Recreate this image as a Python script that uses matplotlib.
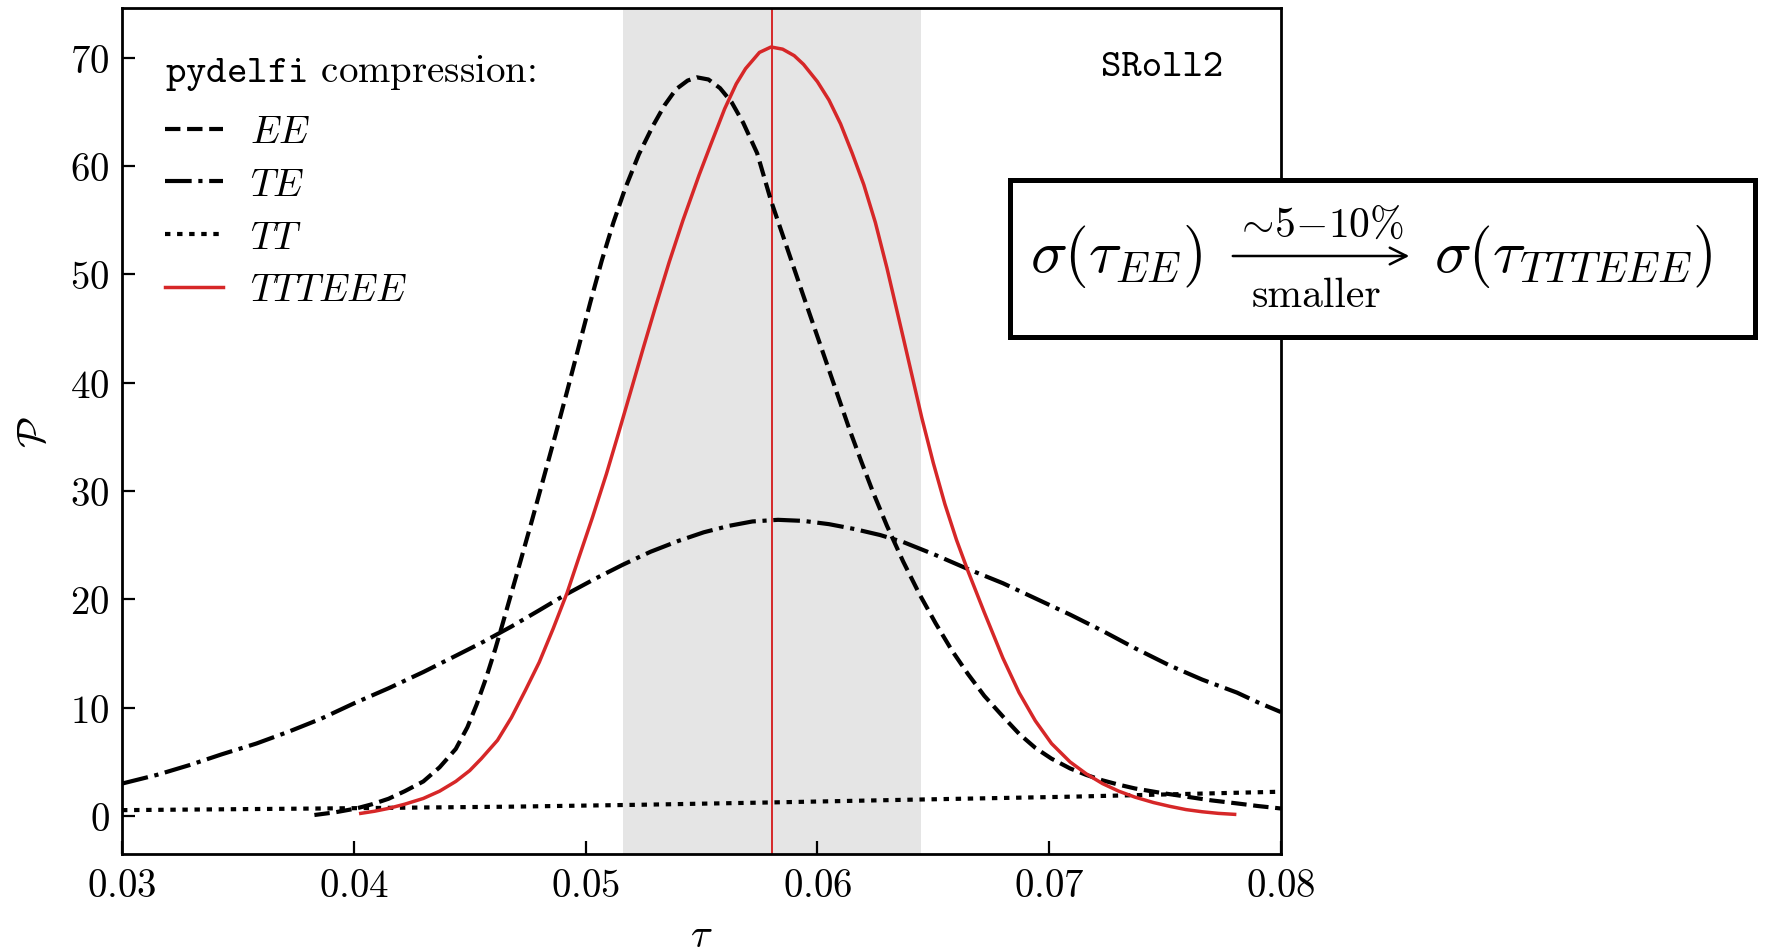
import numpy as np
import matplotlib
matplotlib.use('Agg')
import matplotlib.pyplot as plt
from matplotlib.patches import Rectangle, FancyArrowPatch

plt.rcParams['font.family'] = 'serif'
plt.rcParams['font.serif'] = ['cmr10']
plt.rcParams['font.monospace'] = ['cmtt10']
plt.rcParams['mathtext.fontset'] = 'cm'
plt.rcParams['axes.formatter.use_mathtext'] = True

# posterior curves (tau, P)
tau_ee = [0.0383, 0.0392, 0.0401, 0.0408, 0.0415, 0.0422, 0.0430, 0.0437, 0.0444, 0.0449,
          0.0453, 0.0457, 0.0461, 0.0464, 0.0468, 0.0472, 0.0477, 0.0482, 0.0487, 0.0492,
          0.0497, 0.0502, 0.0507, 0.0512, 0.0517, 0.0523, 0.0529, 0.0534, 0.0539, 0.0544,
          0.0548, 0.0553, 0.0558, 0.0563, 0.0568, 0.0574, 0.0580, 0.0587, 0.0594, 0.0599,
          0.0604, 0.0609, 0.0614, 0.0619, 0.0624, 0.0630, 0.0637, 0.0644, 0.0651, 0.0658,
          0.0665, 0.0672, 0.0680, 0.0687, 0.0694, 0.0701, 0.0709, 0.0716, 0.0723, 0.0730,
          0.0737, 0.0748, 0.0759, 0.0770, 0.0781, 0.0790, 0.0800]
p_ee = [0.1, 0.35, 0.7, 1.1, 1.6, 2.3, 3.2, 4.5, 6.2, 8.2,
        10.3, 12.7, 15.4, 17.6, 20.6, 23.6, 27.4, 31.3, 35.2, 39.2,
        43.3, 47.4, 51.3, 54.8, 57.9, 61.1, 63.7, 65.6, 67.1, 67.9,
        68.2, 68.0, 67.2, 65.9, 64.0, 61.2, 56.8, 52.4, 48.0, 44.9,
        41.8, 38.7, 35.6, 32.7, 29.9, 26.8, 23.5, 20.5, 17.8, 15.3,
        13.1, 11.1, 9.2, 7.6, 6.3, 5.3, 4.4, 3.8, 3.3, 2.9,
        2.55, 2.15, 1.8, 1.45, 1.17, 0.93, 0.7]

tau_te = [0.0300, 0.0315, 0.0329, 0.0343, 0.0358, 0.0372, 0.0386, 0.0400, 0.0415, 0.0430,
          0.0444, 0.0456, 0.0468, 0.0480, 0.0491, 0.0504, 0.0516, 0.0528, 0.0540, 0.0551,
          0.0562, 0.0572, 0.0583, 0.0594, 0.0605, 0.0616, 0.0627, 0.0637, 0.0651, 0.0665,
          0.0680, 0.0694, 0.0709, 0.0723, 0.0737, 0.0752, 0.0766, 0.0781, 0.0790, 0.0800]
p_te = [3.0, 3.8, 4.7, 5.7, 6.7, 7.8, 9.0, 10.4, 11.8, 13.3,
        14.8, 16.1, 17.5, 19.0, 20.4, 21.9, 23.2, 24.4, 25.4, 26.2,
        26.8, 27.2, 27.35, 27.25, 26.95, 26.5, 25.95, 25.3, 24.1, 22.8,
        21.5, 20.1, 18.6, 17.1, 15.5, 13.9, 12.6, 11.4, 10.5, 9.6]

tau_tt = [0.0300, 0.0385, 0.0468, 0.0525, 0.0580, 0.0637, 0.0709, 0.0800]
p_tt = [0.55, 0.7, 0.87, 1.05, 1.26, 1.5, 1.79, 2.25]

tau_all = [0.0403, 0.0409, 0.0415, 0.0422, 0.0430, 0.0437, 0.0444, 0.0450, 0.0455, 0.0462,
           0.0468, 0.0474, 0.0480, 0.0486, 0.0492, 0.0497, 0.0503, 0.0509, 0.0514, 0.0520,
           0.0525, 0.0530, 0.0536, 0.0542, 0.0549, 0.0554, 0.0560, 0.0565, 0.0569, 0.0575,
           0.0580, 0.0585, 0.0590, 0.0594, 0.0600, 0.0605, 0.0610, 0.0615, 0.0620, 0.0625,
           0.0630, 0.0637, 0.0645, 0.0650, 0.0655, 0.0660, 0.0665, 0.0672, 0.0680, 0.0687,
           0.0694, 0.0701, 0.0709, 0.0716, 0.0723, 0.0730, 0.0737, 0.0745, 0.0752, 0.0759,
           0.0766, 0.0773, 0.0780]
p_all = [0.25, 0.45, 0.71, 1.1, 1.63, 2.3, 3.2, 4.2, 5.3, 7.0,
         9.1, 11.6, 14.2, 17.3, 20.6, 23.8, 27.6, 31.6, 35.2, 39.6,
         43.3, 46.9, 51.1, 55.0, 59.2, 62.0, 65.3, 67.6, 69.0, 70.5,
         71.0, 70.8, 70.2, 69.4, 67.8, 66.1, 63.9, 61.2, 58.3, 54.8,
         50.6, 44.2, 36.8, 32.6, 28.8, 25.5, 22.6, 18.8, 14.6, 11.4,
         8.8, 6.7, 5.0, 3.9, 3.0, 2.3, 1.75, 1.25, 0.9, 0.6,
         0.4, 0.25, 0.16]

tau_mean = 0.05805
tau_sig = 0.00643

W, H = 1769, 953
fig = plt.figure(figsize=(W / 100, H / 100), dpi=100)
ax = fig.add_axes([122 / W, 1 - 855 / H, (1281 - 122) / W, (855 - 9) / H])

red = '#d62728'
ax.axvspan(tau_mean - tau_sig, tau_mean + tau_sig, color='#e5e5e5', lw=0, zorder=0)
ax.axvline(tau_mean, color=red, lw=1.4, zorder=1)

ax.plot(tau_ee, p_ee, color='k', ls='--', lw=3.0, label=r'$EE$')
ax.plot(tau_te, p_te, color='k', ls='-.', lw=3.0, label=r'$TE$')
ax.plot(tau_tt, p_tt, color='k', ls=(0, (1.3, 1.6)), lw=3.0, label=r'$TT$')
ax.plot(tau_all, p_all, color=red, ls='-', lw=2.5, label=r'$TTTEEE$')

ax.set_xlim(0.03, 0.08)
ax.set_ylim(-3.5, 74.6)

for s in ax.spines.values():
    s.set_linewidth(2.0)
ax.tick_params(direction='in', length=9.5, width=1.6, labelsize=28)
ax.tick_params(axis='x', pad=10)
ax.tick_params(axis='y', pad=9)

ax.set_xlabel(r'$\tau$', fontsize=29, va='baseline')
ax.set_ylabel(r'$\mathcal{P}$', fontsize=29)
ax.xaxis.set_label_coords(0.5, -(947 - 855) / 846)
ax.yaxis.set_label_coords(-0.06, 0.5)

# legend heading and entries
ax.text(0.037, 0.9476, r'$\mathtt{pydelfi}$ compression:', fontsize=28,
        ha='left', va='top', transform=ax.transAxes)
leg = ax.legend(loc='upper left', bbox_to_anchor=(0.037, 0.874), frameon=False,
                fontsize=28, handlelength=1.5, handletextpad=0.7, labelspacing=0.43,
                borderpad=0, borderaxespad=0)

ax.text(0.95, 0.93, 'SRoll2', family='monospace', fontsize=28,
        ha='right', va='center', transform=ax.transAxes)

# annotation box on the right
box = Rectangle((1009.5 / W, 1 - 337.5 / H), (1755 - 1009.5) / W, (337.5 - 180.5) / H,
                transform=fig.transFigure, fc='white', ec='black', lw=3.6)
fig.add_artist(box)
yb = 1 - 272 / H
fig.text(1030 / W, yb, r'$\sigma(\tau_{EE})$', fontsize=44, ha='left', va='baseline')
fig.text(1434 / W, yb, r'$\sigma(\tau_{TTTEEE})$', fontsize=44, ha='left', va='baseline')
arr = FancyArrowPatch((1230 / W, 1 - 257 / H), (1412 / W, 1 - 257 / H), transform=fig.transFigure,
                      arrowstyle='->', mutation_scale=30, lw=1.8, color='k')
fig.add_artist(arr)
fig.text(1319 / W, 1 - 237 / H, r'$\sim\!5{-}10\%$', fontsize=30, ha='center', va='baseline')
fig.text(1316 / W, 1 - 307 / H, 'smaller', fontsize=30, ha='center', va='baseline')

fig.savefig('out.png', dpi=100)
